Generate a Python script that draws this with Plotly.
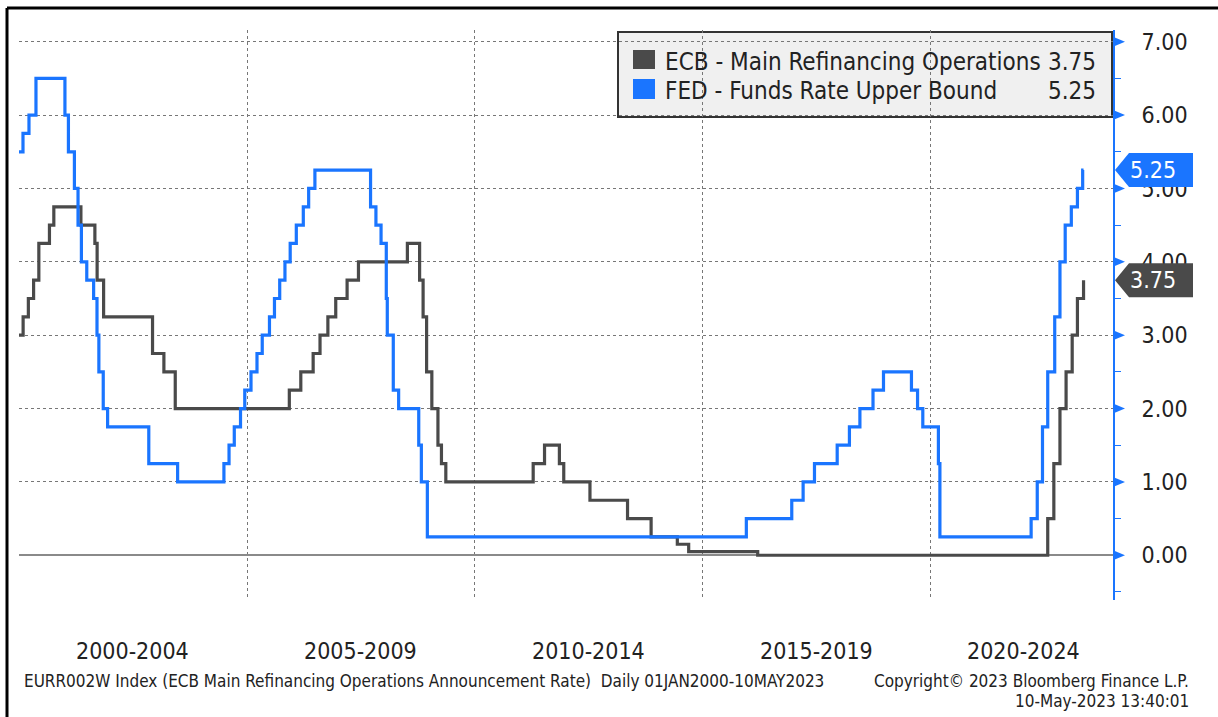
import plotly.graph_objects as go

# ECB main refinancing rate (announcement), step changes
ecb_dates = ['2000-01-01', '2000-02-03', '2000-03-16', '2000-04-27', '2000-06-08', '2000-09-01',
             '2000-10-06', '2001-05-11', '2001-08-31', '2001-09-18', '2001-11-09', '2002-12-06',
             '2003-03-07', '2003-06-06', '2005-12-06', '2006-03-08', '2006-06-15', '2006-08-09',
             '2006-10-11', '2006-12-13', '2007-03-14', '2007-06-13', '2008-07-09', '2008-10-15',
             '2008-11-12', '2008-12-10', '2009-01-21', '2009-03-11', '2009-04-08', '2009-05-13',
             '2011-04-13', '2011-07-13', '2011-11-09', '2011-12-14', '2012-07-11', '2013-05-08',
             '2013-11-13', '2014-06-11', '2014-09-10', '2016-03-16', '2022-07-27', '2022-09-14',
             '2022-11-02', '2022-12-21', '2023-02-08', '2023-03-22', '2023-05-10']
ecb_rates = [3.00, 3.25, 3.50, 3.75, 4.25, 4.50,
             4.75, 4.50, 4.25, 3.75, 3.25, 2.75,
             2.50, 2.00, 2.25, 2.50, 2.75, 3.00,
             3.25, 3.50, 3.75, 4.00, 4.25, 3.75,
             3.25, 2.50, 2.00, 1.50, 1.25, 1.00,
             1.25, 1.50, 1.25, 1.00, 0.75, 0.50,
             0.25, 0.15, 0.05, 0.00, 0.50, 1.25,
             2.00, 2.50, 3.00, 3.50, 3.75]

# FED funds target / upper bound
fed_dates = ['2000-01-01', '2000-02-02', '2000-03-21', '2000-05-16', '2001-01-03', '2001-01-31',
             '2001-03-20', '2001-04-18', '2001-05-15', '2001-06-27', '2001-08-21', '2001-09-17',
             '2001-10-02', '2001-11-06', '2001-12-11', '2002-11-06', '2003-06-25', '2004-06-30',
             '2004-08-10', '2004-09-21', '2004-11-10', '2004-12-14', '2005-02-02', '2005-03-22',
             '2005-05-03', '2005-06-30', '2005-08-09', '2005-09-20', '2005-11-01', '2005-12-13',
             '2006-01-31', '2006-03-28', '2006-05-10', '2006-06-29', '2007-09-18', '2007-10-31',
             '2007-12-11', '2008-01-22', '2008-01-30', '2008-03-18', '2008-04-30', '2008-10-08',
             '2008-10-29', '2008-12-16', '2015-12-16', '2016-12-14', '2017-03-15', '2017-06-14',
             '2017-12-13', '2018-03-21', '2018-06-13', '2018-09-26', '2018-12-19', '2019-07-31',
             '2019-09-18', '2019-10-30', '2020-03-03', '2020-03-15', '2022-03-16', '2022-05-04',
             '2022-06-15', '2022-07-27', '2022-09-21', '2022-11-02', '2022-12-14', '2023-02-01',
             '2023-03-22', '2023-05-03', '2023-05-10']
fed_rates = [5.50, 5.75, 6.00, 6.50, 6.00, 5.50,
             5.00, 4.50, 4.00, 3.75, 3.50, 3.00,
             2.50, 2.00, 1.75, 1.25, 1.00, 1.25,
             1.50, 1.75, 2.00, 2.25, 2.50, 2.75,
             3.00, 3.25, 3.50, 3.75, 4.00, 4.25,
             4.50, 4.75, 5.00, 5.25, 4.75, 4.50,
             4.25, 3.50, 3.00, 2.25, 2.00, 1.50,
             1.00, 0.25, 0.50, 0.75, 1.00, 1.25,
             1.50, 1.75, 2.00, 2.25, 2.50, 2.25,
             2.00, 1.75, 1.25, 0.25, 0.50, 1.00,
             1.75, 2.50, 3.25, 4.00, 4.50, 4.75,
             5.00, 5.25, 5.25]

ecb_name = 'ECB - Main Refinancing Operations'
fed_name = 'FED - Funds Rate Upper Bound'
period_labels = ['2000-2004', '2005-2009', '2010-2014', '2015-2019', '2020-2024']
period_label_pos = ['2002-07-01', '2007-07-01', '2012-07-01', '2017-07-01', '2022-01-15']
year_grid = ['2005-01-01', '2010-01-01', '2015-01-01', '2020-01-01']
y_ticks = [0, 1, 2, 3, 4, 5, 6, 7]

ECB_COL = '#4a4a4a'
FED_COL = '#1a75ff'
FONT = 'DejaVu Sans Condensed, DejaVu Sans, sans-serif'

W, H = 1218, 717
L, R, T, B = 19, 105, 30, 117
PW, PH = W - L - R, H - T - B
Y0, Y1 = -0.61, 7.16
X_END = '2024-01-01'


def fx(px):
    return (px - L) / PW


def fy(px):
    return (H - B - px) / PH


def dy(px):
    return px * (Y1 - Y0) / PH


fig = go.Figure()
fig.add_trace(go.Scatter(x=ecb_dates, y=ecb_rates, mode='lines', line_shape='hv',
                         line=dict(color=ECB_COL, width=3.2), name=ecb_name))
fig.add_trace(go.Scatter(x=fed_dates, y=fed_rates, mode='lines', line_shape='hv',
                         line=dict(color=FED_COL, width=3.2), name=fed_name))

shapes = []
# arrow heads at the major ticks of the right axis
for v in y_ticks:
    tri = f'M {fx(1113)},{v + dy(5)} L {fx(1125)},{v} L {fx(1113)},{v - dy(5)} Z'
    shapes.append(dict(type='path', xref='paper', yref='y', path=tri,
                       fillcolor=FED_COL, line=dict(width=0), layer='above'))

# legend box
lx0, lx1, ly0, ly1 = fx(618), fx(1112), fy(32), fy(117)
shapes.append(dict(type='rect', xref='paper', yref='paper', x0=lx0, x1=lx1, y0=ly1, y1=ly0,
                   fillcolor='#f0f0f0', line=dict(color='#333333', width=2), layer='below'))
shapes.append(dict(type='rect', xref='paper', yref='paper', x0=fx(633), x1=fx(655),
                   y0=fy(69), y1=fy(50), fillcolor=ECB_COL, line=dict(width=0)))
shapes.append(dict(type='rect', xref='paper', yref='paper', x0=fx(633), x1=fx(655),
                   y0=fy(99), y1=fy(79), fillcolor=FED_COL, line=dict(width=0)))

# last value tags
for val, col in [(fed_rates[-1], FED_COL), (ecb_rates[-1], ECB_COL)]:
    h = dy(17)
    path = (f'M {fx(1115)},{val} L {fx(1129)},{val + h} L {fx(1193)},{val + h} '
            f'L {fx(1193)},{val - h} L {fx(1129)},{val - h} Z')
    shapes.append(dict(type='path', xref='paper', yref='y', path=path,
                       fillcolor=col, line=dict(width=0), layer='above'))

# outer frame (top and left)
shapes.append(dict(type='line', xref='paper', yref='paper', x0=fx(7), x1=fx(1218),
                   y0=fy(8), y1=fy(8), line=dict(color='black', width=3)))
shapes.append(dict(type='line', xref='paper', yref='paper', x0=fx(7), x1=fx(7),
                   y0=fy(8), y1=fy(717), line=dict(color='black', width=3)))

annotations = []
leg_font = dict(size=24, color='#222222', family=FONT)
annotations.append(dict(xref='paper', yref='paper', x=fx(663), y=fy(62), text=ecb_name,
                        xanchor='left', yanchor='middle', showarrow=False, font=leg_font))
annotations.append(dict(xref='paper', yref='paper', x=fx(663), y=fy(91), text=fed_name,
                        xanchor='left', yanchor='middle', showarrow=False, font=leg_font))
annotations.append(dict(xref='paper', yref='paper', x=fx(1098), y=fy(62), text=f'{ecb_rates[-1]:.2f}',
                        xanchor='right', yanchor='middle', showarrow=False, font=leg_font))
annotations.append(dict(xref='paper', yref='paper', x=fx(1098), y=fy(91), text=f'{fed_rates[-1]:.2f}',
                        xanchor='right', yanchor='middle', showarrow=False, font=leg_font))
for val in [fed_rates[-1], ecb_rates[-1]]:
    annotations.append(dict(xref='paper', yref='y', x=fx(1153), y=val, text=f'{val:.2f}',
                            xanchor='center', yanchor='middle', showarrow=False,
                            font=dict(size=23, color='white', family=FONT)))

for lab, pos in zip(period_labels, period_label_pos):
    annotations.append(dict(xref='x', yref='paper', x=pos, y=fy(651), text=lab,
                            xanchor='center', yanchor='middle', showarrow=False,
                            font=dict(size=23, color='#222222', family=FONT)))

foot_font = dict(size=17, color='#222222', family=FONT)
annotations.append(dict(xref='paper', yref='paper', x=fx(22), y=fy(681),
                        text='EURR002W Index (ECB Main Refinancing Operations Announcement Rate)  Daily 01JAN2000-10MAY2023',
                        xanchor='left', yanchor='middle', showarrow=False, font=foot_font))
annotations.append(dict(xref='paper', yref='paper', x=fx(1191), y=fy(681),
                        text='Copyright© 2023 Bloomberg Finance L.P.',
                        xanchor='right', yanchor='middle', showarrow=False, font=foot_font))
annotations.append(dict(xref='paper', yref='paper', x=fx(1191), y=fy(701),
                        text='10-May-2023 13:40:01',
                        xanchor='right', yanchor='middle', showarrow=False, font=foot_font))

fig.update_layout(
    width=W, height=H,
    margin=dict(l=L, r=R, t=T, b=B),
    paper_bgcolor='white', plot_bgcolor='white',
    showlegend=False,
    shapes=shapes,
    annotations=annotations,
    font=dict(family=FONT, color='#222222'),
    xaxis=dict(
        type='date', range=['2000-01-01', X_END],
        tickvals=year_grid, showticklabels=False, ticks='',
        showgrid=True, gridcolor='#777777', gridwidth=1, griddash='dot',
        zeroline=False, showline=False,
    ),
    yaxis=dict(
        side='right', range=[Y0, Y1],
        tickvals=y_ticks, ticktext=[f'{v:.2f}' for v in y_ticks],
        ticks='outside', ticklen=6, tickwidth=1, tickcolor=FED_COL,
        ticklabelstandoff=16,
        minor=dict(dtick=0.5, ticks='outside', ticklen=6, tickcolor=FED_COL, showgrid=False),
        tickfont=dict(size=23, color='#222222', family=FONT),
        showgrid=True, gridcolor='#777777', gridwidth=1, griddash='dot',
        zeroline=True, zerolinecolor='#8a8a8a', zerolinewidth=2,
        showline=True, linecolor=FED_COL, linewidth=2,
    ),
)

# page body without default margin so the figure sits at the window origin
fig.write_html('out.html', config={'displayModeBar': False},
               post_script="document.body.style.margin='0px';")
